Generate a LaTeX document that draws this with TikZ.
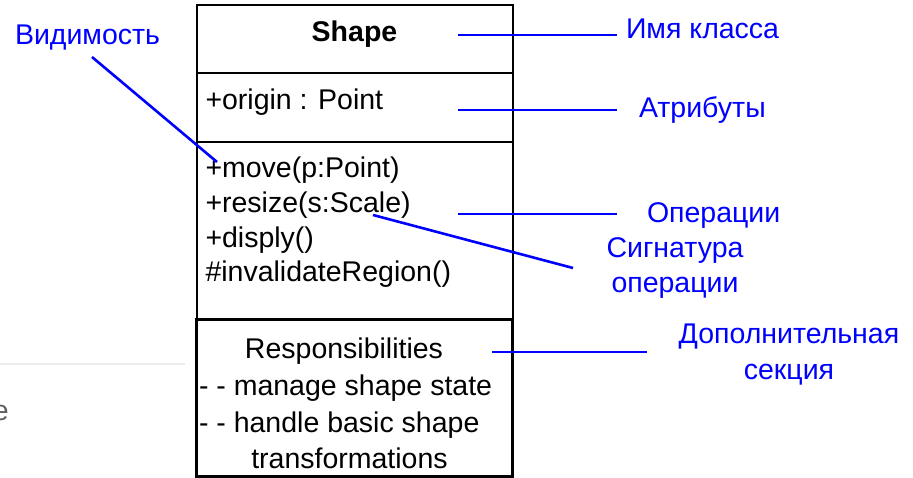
\documentclass[tikz,border=0pt]{standalone}
\usepackage{fontspec}
\setmainfont{Liberation Sans}
\definecolor{labelblue}{RGB}{0,0,255}
\definecolor{ghost}{RGB}{95,95,95}
\definecolor{rule}{RGB}{236,236,236}
\begin{document}
\begin{tikzpicture}[x=1pt,y=-1pt,
  every node/.style={inner sep=0pt,outer sep=0pt},
  txt/.style={font=\fontsize{28.5}{34}\selectfont,text=black},
  lbl/.style={font=\fontsize{28.5}{34}\selectfont,text=labelblue},
  part/.style={draw=black,line width=2pt,anchor=north west},
  extra/.style={draw=black,line width=3pt,anchor=north west},
  pointer/.style={draw=labelblue,line width=2.6pt}]
\useasboundingbox (0,0) rectangle (913,478);

% remnants at the left edge
\draw[rule,line width=1.5pt] (0,364) -- (185,364);
\node[txt,text=ghost,anchor=base west] (ghostletter) at (-7,420) {e};

% class compartments
\node[part,minimum width=315.5pt,minimum height=68pt]  (namepart) at (197,5) {};
\node[part,minimum width=315.5pt,minimum height=69pt]  (attrpart) at (197,73) {};
\node[part,minimum width=315.5pt,minimum height=178pt] (opspart)  at (197,142) {};
\node[extra,minimum width=316.5pt,minimum height=156pt] (resppart) at (196,320) {};

% compartment texts
\node[txt,font=\fontsize{28.5}{34}\selectfont\bfseries,anchor=base] (clsname) at (354.5,41.5) {Shape};
\node[txt,anchor=base west] (attr1) at (205.5,110) {+origin : Point};
\node[txt,anchor=base west] (op1) at (205.5,178) {+move(p:Point)};
\node[txt,anchor=base west] (op2) at (205.5,213) {+resize(s:Scale)};
\node[txt,anchor=base west] (op3) at (205.5,247.5) {+disply()};
\node[txt,anchor=base west] (op4) at (205.5,282) {\#invalidateRegion()};
\node[txt,anchor=base] (resp1) at (344,358) {Responsibilities};
\node[txt,anchor=base west] (resp2) at (199,395) {- - manage shape state};
\node[txt,anchor=base west] (resp3) at (199,432) {- - handle basic shape};
\node[txt,anchor=base] (resp4) at (349.5,468) {transformations};

% callout labels
\node[lbl,anchor=base west] (lvis)   at (15,45)   {Видимость};
\node[lbl,anchor=base west] (lname)  at (626,39)  {Имя класса};
\node[lbl,anchor=base west] (lattr)  at (639,118) {Атрибуты};
\node[lbl,anchor=base west] (lops)   at (647,223) {Операции};
\node[lbl,anchor=base] (lsig1)  at (675,258) {Сигнатура};
\node[lbl,anchor=base] (lsig2)  at (675,293) {операции};
\node[lbl,anchor=base] (lextra1) at (789,344) {Дополнительная};
\node[lbl,anchor=base] (lextra2) at (789,379) {секция};

% pointer ends
\coordinate (visA) at (92,57);    \coordinate (visB) at (217,162);
\coordinate (nameA) at (458,35);  \coordinate (nameB) at (617,35);
\coordinate (attrA) at (458,110); \coordinate (attrB) at (617,110);
\coordinate (opsA) at (458,214);  \coordinate (opsB) at (617,214);
\coordinate (sigA) at (373,215);  \coordinate (sigB) at (573,268);
\coordinate (extA) at (492,352);  \coordinate (extB) at (647,352);

% pointers
\draw[pointer] (visA) -- (visB);
\draw[pointer] (nameA) -- (nameB);
\draw[pointer] (attrA) -- (attrB);
\draw[pointer] (opsA) -- (opsB);
\draw[pointer] (sigA) -- (sigB);
\draw[pointer] (extA) -- (extB);
\end{tikzpicture}
\end{document}
